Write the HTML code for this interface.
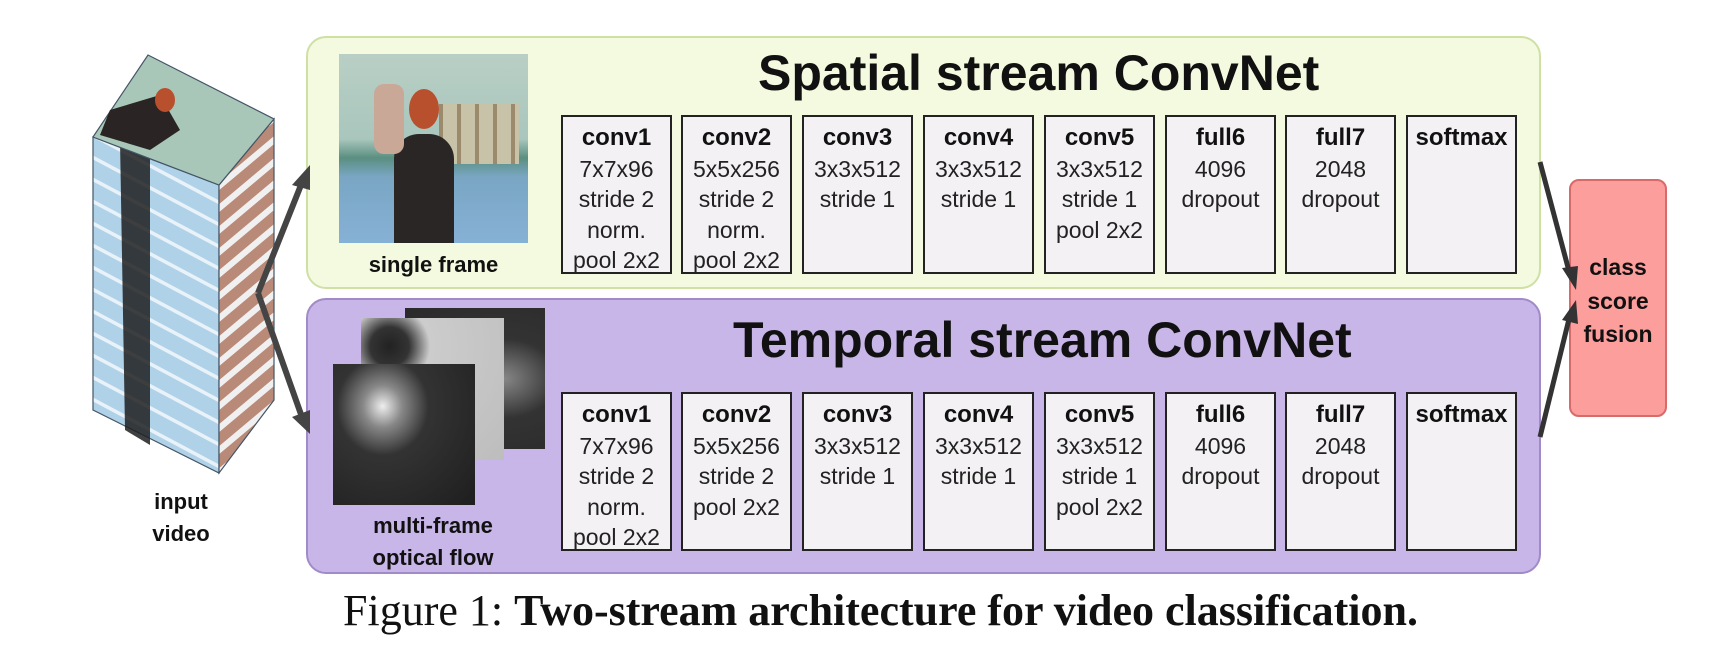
<!DOCTYPE html>
<html><head><meta charset="utf-8"><style>
body{margin:0;background:#fff;width:1722px;height:650px;overflow:hidden;position:relative;font-family:"Liberation Sans",sans-serif;}
.abs{position:absolute}
.panel{position:absolute;left:306px;width:1235px;border-radius:20px;box-sizing:border-box}
.green{top:36px;height:253px;background:#f3fadf;border:2px solid #cfe0a4}
.purple{top:298px;height:276px;background:#c9b6e9;border:2px solid #a08ac8}
.title{position:absolute;font-weight:bold;font-size:50px;color:#111;white-space:nowrap;line-height:1}
.box{position:absolute;width:111px;box-sizing:border-box;border:2.5px solid #222;background:#f3f1f4;text-align:center;color:#222;font-size:23px;line-height:30.5px;padding-top:5px;white-space:nowrap}
.box b{font-size:24px;color:#111}
.lbl{position:absolute;font-weight:bold;font-size:22px;color:#111;text-align:center;line-height:32px;white-space:nowrap}
</style></head><body>
<div class="panel green"></div>
<div class="panel purple"></div>
<div class="title" style="left:758px;top:48px">Spatial stream ConvNet</div>
<div class="title" style="left:733px;top:315px">Temporal stream ConvNet</div>

<!-- single frame image -->
<div class="abs" style="left:339px;top:54px;width:189px;height:189px;background:linear-gradient(180deg,#b9cfc5 0%,#a9c6bd 45%,#5a8f80 55%,#7aa6c4 65%,#86b1d6 100%);overflow:hidden">
 <div class="abs" style="left:100px;top:50px;width:80px;height:60px;background:repeating-linear-gradient(90deg,#9c8a6c 0 4px,#c8c2a8 4px 18px)"></div>
 <div class="abs" style="left:55px;top:80px;width:60px;height:109px;background:#2a2626;border-radius:25px 25px 0 0"></div>
 <div class="abs" style="left:70px;top:35px;width:30px;height:40px;background:#b8502e;border-radius:50%"></div>
 <div class="abs" style="left:35px;top:30px;width:30px;height:70px;background:#c9a898;border-radius:10px"></div>
</div>
<div class="lbl" style="left:339px;top:249px;width:189px">single frame</div>

<!-- optical flow -->
<div class="abs" style="left:405px;top:308px;width:140px;height:141px;background:radial-gradient(ellipse at 70% 50%,#888 0%,#333 40%,#2a2a2a 100%)"></div>
<div class="abs" style="left:361px;top:318px;width:143px;height:142px;background:radial-gradient(ellipse at 20% 20%,#222 0%,#333 12%,#ccc 25%,#bdbdbd 100%)"></div>
<div class="abs" style="left:333px;top:364px;width:142px;height:141px;background:radial-gradient(ellipse at 35% 30%,#eee 0%,#888 15%,#333 35%,#1e1e1e 100%)"></div>
<div class="lbl" style="left:333px;top:510px;width:200px">multi-frame<br>optical flow</div>

<!-- video stack -->
<svg class="abs" style="left:0;top:0" width="340" height="650">
 <defs>
  <pattern id="st" width="20" height="22" patternUnits="userSpaceOnUse" patternTransform="skewY(28)">
   <rect width="20" height="22" fill="#b0d2e8"/><rect y="18" width="20" height="4" fill="#e8f2f8"/>
  </pattern>
  <pattern id="sr" width="20" height="22" patternUnits="userSpaceOnUse" patternTransform="skewY(-40)">
   <rect width="20" height="22" fill="#b98a78"/><rect y="14" width="20" height="8" fill="#f0f0f0"/>
  </pattern>
 </defs>
 <polygon points="93,137 219,185 219,473 93,410" fill="url(#st)" stroke="#456" stroke-width="1.2"/>
 <polygon points="120,140 150,150 150,445 125,430" fill="#1e1e1e" opacity="0.85"/>
 <polygon points="219,185 274,119 274,400 219,473" fill="url(#sr)" stroke="#456" stroke-width="1.2"/>
 <polygon points="148,55 274,119 219,185 93,137" fill="#a9c7b8" stroke="#456" stroke-width="1.2"/>
 <polygon points="110,110 160,95 180,130 150,150 100,135" fill="#2a2424"/>
 <ellipse cx="165" cy="100" rx="10" ry="12" fill="#b8502e"/>
 <line x1="258" y1="293" x2="303" y2="180" stroke="#444" stroke-width="6"/>
 <polygon points="310,165 292,185 310,190" fill="#444"/>
 <line x1="258" y1="293" x2="303" y2="420" stroke="#444" stroke-width="6"/>
 <polygon points="310,434 292,417 310,410" fill="#444"/>
</svg>
<div class="lbl" style="left:131px;top:486px;width:100px">input<br>video</div>

<!-- boxes -->
<div class="box" style="left:561px;top:115px;height:159px"><b>conv1</b><br>7x7x96<br>stride 2<br>norm.<br>pool 2x2</div>
<div class="box" style="left:681px;top:115px;height:159px"><b>conv2</b><br>5x5x256<br>stride 2<br>norm.<br>pool 2x2</div>
<div class="box" style="left:802px;top:115px;height:159px"><b>conv3</b><br>3x3x512<br>stride 1</div>
<div class="box" style="left:923px;top:115px;height:159px"><b>conv4</b><br>3x3x512<br>stride 1</div>
<div class="box" style="left:1044px;top:115px;height:159px"><b>conv5</b><br>3x3x512<br>stride 1<br>pool 2x2</div>
<div class="box" style="left:1165px;top:115px;height:159px"><b>full6</b><br>4096<br>dropout</div>
<div class="box" style="left:1285px;top:115px;height:159px"><b>full7</b><br>2048<br>dropout</div>
<div class="box" style="left:1406px;top:115px;height:159px"><b>softmax</b></div>

<div class="box" style="left:561px;top:392px;height:159px"><b>conv1</b><br>7x7x96<br>stride 2<br>norm.<br>pool 2x2</div>
<div class="box" style="left:681px;top:392px;height:159px"><b>conv2</b><br>5x5x256<br>stride 2<br>pool 2x2</div>
<div class="box" style="left:802px;top:392px;height:159px"><b>conv3</b><br>3x3x512<br>stride 1</div>
<div class="box" style="left:923px;top:392px;height:159px"><b>conv4</b><br>3x3x512<br>stride 1</div>
<div class="box" style="left:1044px;top:392px;height:159px"><b>conv5</b><br>3x3x512<br>stride 1<br>pool 2x2</div>
<div class="box" style="left:1165px;top:392px;height:159px"><b>full6</b><br>4096<br>dropout</div>
<div class="box" style="left:1285px;top:392px;height:159px"><b>full7</b><br>2048<br>dropout</div>
<div class="box" style="left:1406px;top:392px;height:159px"><b>softmax</b></div>

<!-- fusion -->
<div class="abs" style="left:1569px;top:179px;width:98px;height:238px;box-sizing:border-box;background:#fb9e9c;border:2px solid #d86a6a;border-radius:10px"></div>
<div class="lbl" style="left:1569px;top:251px;width:98px;font-size:23px;line-height:33.5px">class<br>score<br>fusion</div>
<svg class="abs" style="left:1520px;top:140px" width="80" height="320">
 <line x1="20" y1="22" x2="50" y2="135" stroke="#333" stroke-width="5"/>
 <polygon points="56,150 42,128 58,126" fill="#333"/>
 <line x1="20" y1="297" x2="50" y2="175" stroke="#333" stroke-width="5"/>
 <polygon points="56,160 42,180 58,184" fill="#333"/>
</svg>

<div class="abs" style="left:343px;top:586px;font-family:'Liberation Serif',serif;font-size:44px;line-height:50px;color:#111;white-space:nowrap">Figure 1: <b>Two-stream architecture for video classification.</b></div>
</body></html>
